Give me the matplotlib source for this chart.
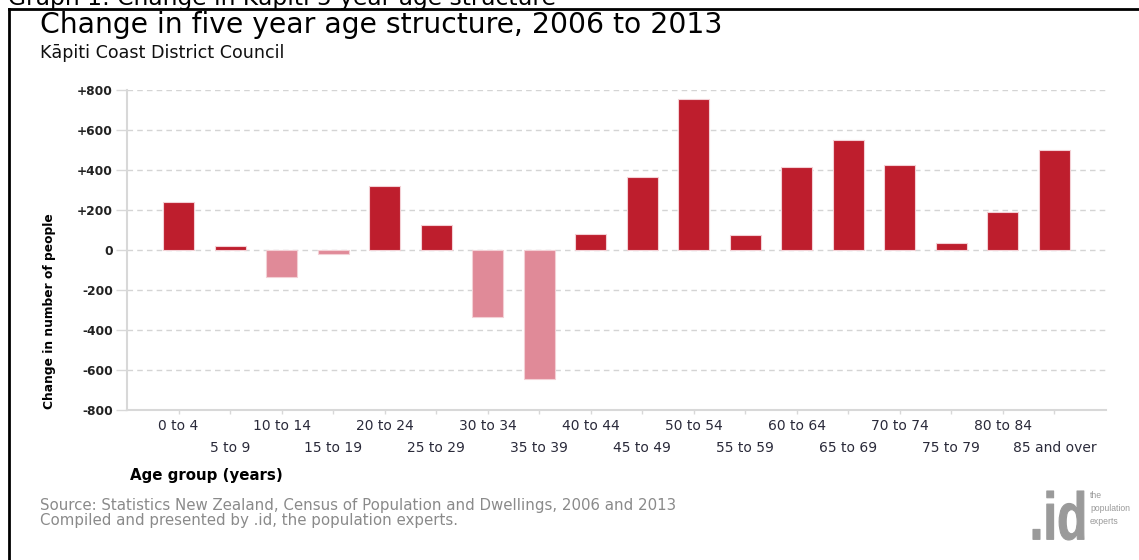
import matplotlib
matplotlib.use("Agg")
import matplotlib.pyplot as plt
from matplotlib.lines import Line2D
from matplotlib.textpath import TextPath
from matplotlib.patches import PathPatch
from matplotlib.font_manager import FontProperties
from matplotlib.transforms import Affine2D

plt.rcParams['font.family'] = ['DejaVu Sans']

# data
age_groups = ["0 to 4", "5 to 9", "10 to 14", "15 to 19", "20 to 24", "25 to 29",
              "30 to 34", "35 to 39", "40 to 44", "45 to 49", "50 to 54", "55 to 59",
              "60 to 64", "65 to 69", "70 to 74", "75 to 79", "80 to 84", "85 and over"]
change = [238, 20, -137, -20, 318, 123, -337, -646, 82, 367, 755, 73, 415, 548, 427, 33, 190, 500]
y_ticks = [-800, -600, -400, -200, 0, 200, 400, 600, 800]
y_tick_labels = ["-800", "-600", "-400", "-200", "0", "+200", "+400", "+600", "+800"]

pos_color = "#BE1E2D"
neg_color = "#E08A98"

W, H = 1139, 560
fig = plt.figure(figsize=(W / 100, H / 100), dpi=100)
ax = fig.add_axes([127 / W, 1 - 410 / H, (1106 - 127) / W, 320 / H])

x = list(range(len(age_groups)))
colors = [pos_color if v >= 0 else neg_color for v in change]
ax.bar(x, change, width=0.6, color=colors, edgecolor="#f3d0d5", linewidth=0.8, zorder=3)

ax.set_xlim(-1, 18)
ax.set_ylim(-800, 800)
ax.set_yticks(y_ticks)
ax.set_yticklabels(y_tick_labels)
ax.yaxis.grid(True, color="#d4d4d4", linestyle=(0, (4, 3)), linewidth=1, zorder=0)

for s in ["top", "right"]:
    ax.spines[s].set_visible(False)
ax.spines["left"].set_color("#d8d8d8")
ax.spines["bottom"].set_color("#d8d8d8")
ax.spines["left"].set_linewidth(1.5)
ax.spines["bottom"].set_linewidth(1.5)

ax.tick_params(axis="y", length=8, width=1, color="#d8d8d8", pad=2,
               labelsize=8.8, labelcolor="#222222")
ax.tick_params(axis="x", length=3, width=1, color="#d8d8d8",
               labelsize=10, labelcolor="#2a2a3a")
for lab in ax.get_yticklabels():
    lab.set_fontweight("bold")

ax.set_xticks(x)
ax.set_xticklabels(age_groups)
for i, tick in enumerate(ax.xaxis.get_major_ticks()):
    tick.set_pad(3.5 if i % 2 == 0 else 19.5)

# titles
fig.text(8 / W, 1 - 5 / H, "Graph 1: Change in Kāpiti 5 year age structure",
         fontsize=16.8, va="baseline", ha="left", color="black")
fig.text(40 / W, 1 - 33 / H, "Change in five year age structure, 2006 to 2013",
         fontsize=20.3, va="baseline", ha="left", color="black")
fig.text(40 / W, 1 - 58 / H, "Kāpiti Coast District Council",
         fontsize=12.6, va="baseline", ha="left", color="#111111")

fig.text(50 / W, 1 - 311 / H, "Change in number of people", rotation=90,
         fontsize=8.8, fontweight="bold", ha="center", va="center")
fig.text(130 / W, 1 - 480 / H, "Age group (years)", fontsize=10.8,
         fontweight="bold", ha="left", va="baseline")

fig.text(40 / W, 1 - 510 / H,
         "Source: Statistics New Zealand, Census of Population and Dwellings, 2006 and 2013",
         fontsize=10.8, color="#8a8a8a", ha="left", va="baseline")
fig.text(40 / W, 1 - 525 / H, "Compiled and presented by .id, the population experts.",
         fontsize=10.8, color="#8a8a8a", ha="left", va="baseline")

# logo: ".id" squeezed into its box
tp = TextPath((0, 0), ".id", size=1, prop=FontProperties(family="Liberation Sans", weight="bold"))
ext = tp.get_extents()
box_x0, box_x1, box_top, box_bot = 1033, 1084, 491, 540
sx = (box_x1 - box_x0) / ext.width
sy = (box_bot - box_top) / ext.height
logo_tr = Affine2D().translate(-ext.x0, -ext.y0).scale(sx, sy).translate(box_x0, H - box_bot)
fig.add_artist(PathPatch(tp, transform=logo_tr, facecolor="#9a9a9a",
                         edgecolor="#9a9a9a", linewidth=0.8, joinstyle="round"))
fig.text(1090 / W, 1 - 491 / H, "the\npopulation\nexperts", fontsize=6.2,
         family="Liberation Sans", color="#9a9a9a", ha="left", va="top", linespacing=1.55)

# frame
fig.add_artist(Line2D([9 / W, 9 / W], [0, 1 - 9 / H], color="black", linewidth=2))
fig.add_artist(Line2D([9 / W, 1], [1 - 9 / H, 1 - 9 / H], color="black", linewidth=2))

fig.savefig("out.png", dpi=100)
